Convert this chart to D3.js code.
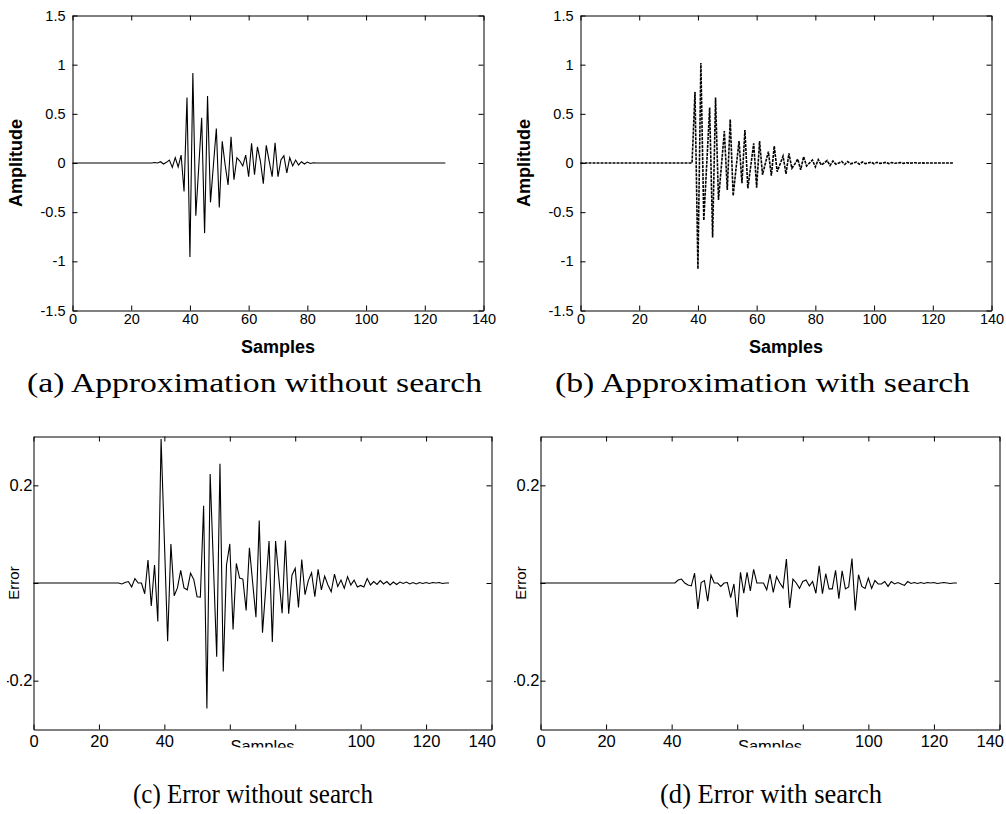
<!DOCTYPE html>
<html>
<head>
<meta charset="utf-8">
<script src="https://cdn.jsdelivr.net/npm/d3@7"></script>
<style>
  body { margin: 0; background: #fff; }
  svg { display: block; }
</style>
</head>
<body>
<svg id="fig" width="1006" height="814"></svg>
<script>
// ---- data (sample index 0..127) ----
var ampNoSearch = [
  0,0,0,0,0,0,0,0,0,0,0,0,0,0,0,0,
  0,0,0,0,0,0,0,0,0,0,0,0,0.005,0,0.013,-0.01,
  0.007,0.03,-0.045,0.055,-0.04,0.08,-0.29,0.665,-0.956,0.915,-0.537,-0.04,0.46,-0.713,0.682,-0.4,
  -0.02,0.351,-0.453,0.22,-0.02,-0.223,0.267,-0.17,0.054,0.02,-0.03,0.08,-0.14,0.2,-0.12,0.165,
  0.02,-0.21,0.18,0.02,-0.14,0.205,-0.14,0.03,0.075,-0.1,0.055,-0.03,0.03,-0.02,0.013,-0.01,
  0.01,-0.005,0.003,0,0,0,0,0,0,0,0,0,0,0,0,0,
  0,0,0,0,0,0,0,0,0,0,0,0,0,0,0,0,
  0,0,0,0,0,0,0,0,0,0,0,0,0,0,0,0
];
var ampSearch = [
  0,0,0,0,0,0,0,0,0,0,0,0,0,0,0,0,
  0,0,0,0,0,0,0,0,0,0,0,0,0,0,0,0,
  0,0,0,0,0,0,0,0.723,-1.078,1.017,-0.584,-0.01,0.564,-0.757,0.666,-0.375,
  -0.03,0.324,-0.274,0.443,-0.334,-0.05,0.223,-0.206,0.334,-0.257,-0.03,0.2,-0.25,0.223,-0.12,0,
  0.115,-0.128,0.172,-0.088,-0.01,0.07,-0.11,0.098,-0.054,-0.01,0.04,-0.07,0.064,-0.03,0,0.03,
  -0.04,0.035,-0.02,0,0.025,-0.025,0.02,-0.012,0,0.015,-0.015,0.014,-0.008,0,0.01,-0.012,
  0.01,-0.006,0,0.008,-0.008,0.007,-0.004,0,0.006,-0.006,0.005,-0.003,0,0.004,-0.004,0.003,
  -0.002,0,0.003,-0.003,0.002,-0.001,0,0,0,0,0,0,0,0,0,0
];
var errNoSearch = [
  0,0,0,0,0,0,0,0,0,0,0,0,0,0,0,0,
  0,0,0,0,0,0,0,0,0,0,0,-0.002,0.001,0.003,-0.008,0.009,
  0,0,-0.022,0.047,-0.047,0.037,-0.079,0.295,0.088,-0.119,0.08,-0.026,-0.01,0.026,-0.01,-0.014,
  0.02,0.007,-0.028,-0.029,0.158,-0.257,0.223,0.036,-0.151,0.244,-0.181,0.037,0.08,-0.095,0.04,0.01,
  0.008,-0.056,0.072,0,-0.07,0.128,-0.102,-0.01,0.086,-0.121,0.086,0.01,-0.062,0.087,-0.063,0.016,
  0.03,-0.05,0.048,-0.024,0.005,0.021,-0.028,0.028,-0.014,0.014,-0.004,-0.018,0.018,-0.007,0.006,-0.011,
  0.013,-0.004,0.006,-0.008,-0.005,-0.008,0.009,-0.004,0.003,-0.003,0.005,-0.002,0.003,-0.004,0.002,-0.003,
  0.002,-0.001,0.002,-0.002,0.001,-0.002,0.001,-0.001,0.001,-0.001,0.001,0,0.001,-0.001,0,0
];
var errSearch = [
  0,0,0,0,0,0,0,0,0,0,0,0,0,0,0,0,
  0,0,0,0,0,0,0,0,0,0,0,0,0,0,0,0,
  0,0,0,0,0,0,0,0,0,0,0.006,0.008,0,-0.004,-0.006,0.02,
  -0.053,0.001,0.005,-0.037,0.016,0,0,-0.007,0,0.001,-0.03,-0.002,-0.07,0.022,-0.021,0.022,
  -0.016,0.028,0,0,0,-0.014,0.018,-0.019,0.013,0,-0.01,0.049,-0.051,0.008,0,-0.011,
  0.003,0.006,-0.006,0.003,-0.021,0.035,-0.022,0.019,-0.012,-0.012,0.026,-0.032,0.025,-0.012,-0.008,0.05,
  -0.056,0.017,-0.007,-0.011,0.01,-0.011,0.005,-0.002,-0.002,0.003,-0.007,0.003,-0.002,0.001,-0.002,-0.005,
  0.003,-0.001,0.001,-0.001,0.001,-0.001,0.001,0,0.001,-0.001,0,0.001,0,-0.001,0,0
];

var sampleTicks = [0, 20, 40, 60, 80, 100, 120, 140];
var ampTicks = [-1.5, -1, -0.5, 0, 0.5, 1, 1.5];
var errTicks = [-0.2, 0, 0.2];
var captions = ["(a) Approximation without search", "(b) Approximation with search",
                "(c) Error without search", "(d) Error with search"];

var svg = d3.select("#fig");

function drawPanel(p){
  var x = d3.scaleLinear().domain([0, 140]).range([p.left, p.right]);
  var y = d3.scaleLinear().domain(p.yDomain).range([p.bottom, p.top]);

  var g = svg.append("g");
  if (p.clip) {
    svg.append("clipPath").attr("id", p.id)
      .append("rect")
      .attr("x", p.clip[0]).attr("y", p.clip[1])
      .attr("width", p.clip[2]).attr("height", p.clip[3]);
    g.attr("clip-path", "url(#" + p.id + ")");
  }

  // axes, ticks inside on all four sides
  var axB = g.append("g").attr("transform", "translate(0," + p.bottom + ")")
    .call(d3.axisBottom(x).tickValues(sampleTicks).tickSizeInner(-5).tickSizeOuter(0)
      .tickPadding(p.xPad).tickFormat(p.xFormat));
  var axT = g.append("g").attr("transform", "translate(0," + p.top + ")")
    .call(d3.axisTop(x).tickValues(sampleTicks).tickSizeInner(-5).tickSizeOuter(0).tickFormat(""));
  var axL = g.append("g").attr("transform", "translate(" + p.left + ",0)")
    .call(d3.axisLeft(y).tickValues(p.yTicks).tickSizeInner(-5).tickSizeOuter(0)
      .tickPadding(p.yPad).tickFormat(p.yFormat));
  var axR = g.append("g").attr("transform", "translate(" + p.right + ",0)")
    .call(d3.axisRight(y).tickValues(p.yTicks).tickSizeInner(-5).tickSizeOuter(0).tickFormat(""));

  [axB, axT, axL, axR].forEach(function(a){
    a.attr("font-family", "'Liberation Sans', Arial, sans-serif")
     .attr("font-size", p.tickFont);
    a.selectAll("path, line").attr("stroke", "#000").attr("stroke-width", 1);
    a.selectAll("text").attr("fill", "#000");
  });

  // last x label pulled inside the frame, as in the lower panels
  if (p.lastEnd) {
    axB.selectAll(".tick text").filter(function(d){ return d === 140; })
      .attr("text-anchor", "end").attr("x", 4);
  }

  // waveform
  var line = d3.line()
    .x(function(d, i){ return x(i); })
    .y(function(d){ return y(d); });
  var path = g.append("path")
    .datum(p.series)
    .attr("d", line)
    .attr("fill", "none")
    .attr("stroke", "#000")
    .attr("stroke-width", p.lineWidth)
    .attr("stroke-linejoin", "miter");
  if (p.dash) path.attr("stroke-dasharray", p.dash);

  // axis titles
  g.append("text")
    .attr("x", (p.left + p.right) / 2)
    .attr("y", p.bottom + p.xTitleDy)
    .attr("text-anchor", "middle")
    .attr("font-family", "'Liberation Sans', Arial, sans-serif")
    .attr("font-size", p.titleFont)
    .attr("font-weight", p.titleWeight)
    .text("Samples");

  g.append("text")
    .attr("transform", "translate(" + (p.left - p.yTitleDx) + "," + ((p.top + p.bottom) / 2) + ") rotate(-90)")
    .attr("text-anchor", "middle")
    .attr("font-family", "'Liberation Sans', Arial, sans-serif")
    .attr("font-size", p.yTitleFont)
    .attr("font-weight", p.titleWeight)
    .text(p.yTitle);

  // caption under the panel
  svg.append("text")
    .attr("x", p.capX)
    .attr("y", p.capY)
    .attr("font-family", "'Liberation Serif', 'DejaVu Serif', serif")
    .attr("font-size", 27)
    .attr("textLength", p.capW)
    .attr("lengthAdjust", "spacingAndGlyphs")
    .text(p.caption);
}

// plain hyphen minus, like the original figure
var ampFormat = function(d){ return String(d); };
var errFormat = function(d){ return d === 0 ? "" : String(d); };
var errXFormat = function(d){ return (d === 60 || d === 80) ? "" : String(d); };

drawPanel({ id: "pa", left: 72.5, right: 483.5, top: 15.5, bottom: 310.5,
  yDomain: [-1.5, 1.5], yTicks: ampTicks, yFormat: ampFormat, xFormat: String,
  series: ampNoSearch, lineWidth: 1.1, tickFont: 14.5, titleFont: 18, yTitleFont: 18,
  titleWeight: "bold", xPad: 3, yPad: 7, xTitleDy: 42, yTitleDx: 51, yTitle: "Amplitude",
  caption: captions[0], capX: 27, capY: 392, capW: 455 });

drawPanel({ id: "pb", left: 580.5, right: 991.5, top: 15.5, bottom: 310.5,
  yDomain: [-1.5, 1.5], yTicks: ampTicks, yFormat: ampFormat, xFormat: String,
  series: ampSearch, lineWidth: 1.6, dash: "3,1", tickFont: 14.5, titleFont: 18, yTitleFont: 18,
  titleWeight: "bold", xPad: 3, yPad: 7, xTitleDy: 42, yTitleDx: 51, yTitle: "Amplitude",
  caption: captions[1], capX: 555, capY: 392, capW: 415 });

drawPanel({ id: "pc", left: 33.5, right: 491.5, top: 436.5, bottom: 729.5,
  yDomain: [-0.3, 0.3], yTicks: errTicks, yFormat: errFormat, xFormat: errXFormat,
  series: errNoSearch, lineWidth: 1.1, tickFont: 16.5, titleFont: 16.5, yTitleFont: 15,
  titleWeight: "normal", xPad: 6, yPad: 1, xTitleDy: 22, yTitleDx: 15, yTitle: "Error",
  clip: [7, 420, 500, 327.5], lastEnd: true,
  caption: captions[2], capX: 133, capY: 803, capW: 240 });

drawPanel({ id: "pd", left: 540.5, right: 999.5, top: 436.5, bottom: 729.5,
  yDomain: [-0.3, 0.3], yTicks: errTicks, yFormat: errFormat, xFormat: errXFormat,
  series: errSearch, lineWidth: 1.1, tickFont: 16.5, titleFont: 16.5, yTitleFont: 15,
  titleWeight: "normal", xPad: 6, yPad: 1, xTitleDy: 22, yTitleDx: 15, yTitle: "Error",
  clip: [514, 420, 492, 327.5], lastEnd: true,
  caption: captions[3], capX: 660, capY: 803, capW: 222 });
</script>
</body>
</html>
